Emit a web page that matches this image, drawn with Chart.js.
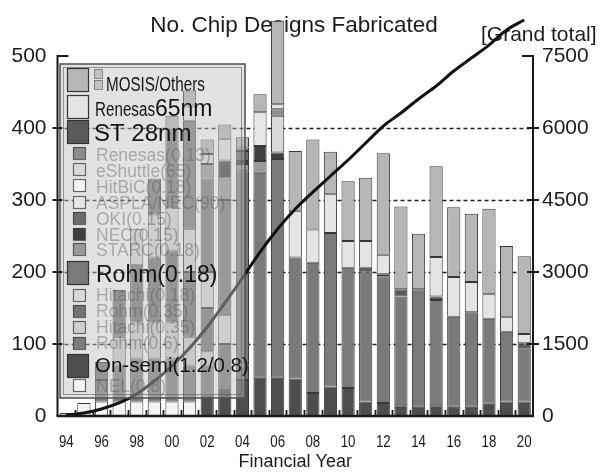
<!DOCTYPE html>
<html>
<head>
<meta charset="utf-8">
<script src="https://cdn.jsdelivr.net/npm/chart.js@4.4.1/dist/chart.umd.min.js"></script>
<style>
  html, body { margin: 0; padding: 0; background: #ffffff; }
  #wrap { width: 604px; height: 473px; position: relative; }
</style>
</head>
<body>
<div id="wrap"><canvas id="c" width="604" height="473"></canvas></div>
<script>
// Financial years FY1994 .. FY2020
const years = ['94','95','96','97','98','99','00','01','02','03','04','05','06','07',
               '08','09','10','11','12','13','14','15','16','17','18','19','20'];

// Chips fabricated per year, by foundry / process (stacked bottom to top)
const nel        = [4,18,20,20,20,20,20,20,0,0,0,0,0,0,0,0,0,0,0,0,0,0,0,0,0,0,0];
const onSemi     = [0,0,0,0,0,0,0,0,30,40,50,53,53,52,32,41,39,20,18,15,13,15,13,13,17,20,20];
const rohm06     = [0,0,30,50,60,60,60,50,40,20,0,0,0,0,0,0,0,0,0,0,0,0,0,0,0,0,0];
const hitachi035 = [0,0,0,40,50,50,50,40,20,0,0,0,0,0,0,0,0,0,0,0,0,0,0,0,0,0,0];
const rohm035    = [0,0,25,65,80,90,100,90,60,40,20,0,0,0,0,0,0,0,0,0,0,0,0,0,0,0,0];
const hitachi018 = [0,0,0,0,50,60,60,60,50,40,0,0,0,0,0,0,0,0,0,0,0,0,0,0,0,0,0];
const rohm018    = [0,0,0,0,0,50,107,150,130,160,270,285,304,168,181,213,167,181,176,151,163,146,125,131,118,97,74];
const starc      = [0,0,0,0,0,0,0,0,20,30,10,16,0,0,0,0,0,0,0,0,0,0,0,0,0,0,0];
const nec        = [0,0,0,0,0,0,0,0,0,25,4,21,9,0,0,0,0,0,0,0,0,0,0,0,0,0,0];
const oki        = [0,0,0,0,0,0,0,0,0,0,14,0,0,0,0,0,0,0,0,0,0,0,0,0,0,0,0];
const aspla      = [0,0,0,0,0,0,0,0,14,30,0,47,0,0,0,0,0,0,0,0,0,0,0,0,0,0,0];
const hitbic     = [0,0,0,0,0,0,0,20,0,0,0,0,0,0,0,0,0,0,0,0,0,0,0,0,0,0,0];
const eshuttle   = [0,0,0,0,0,0,0,0,0,0,0,0,51,0,0,0,0,0,0,0,0,0,0,0,0,0,0];
const renesas13  = [0,0,0,0,0,0,0,0,0,0,5,0,9,0,0,0,0,0,0,0,0,0,0,0,0,0,0];
const st28       = [0,0,0,0,0,0,0,0,0,0,0,0,0,0,0,0,0,5,3,10,0,5,0,0,0,0,7];
const renesas65  = [0,0,0,0,0,0,0,0,0,0,0,0,7,65,46,54,37,37,27,0,0,55,55,42,34,20,13];
const mosis      = [0,0,0,0,0,0,20,22,20,20,14,25,116,83,125,59,83,88,141,115,77,126,97,95,119,99,108];

// Cumulative number of designs (right axis)
const grandTotal = [21,62,146,271,458,729,1042,1417,1854,2354,2875,3416,3896,4312,4666,
                    5000,5333,5687,6041,6312,6604,6875,7187,7458,7728,8041,8250];

// Axis ticks
const leftTicks  = [0,100,200,300,400,500];
const rightTicks = [0,1500,3000,4500,6000,7500];

const series = [
  { name: 'NEL(0.8)',          data: nel,        color: '#f4f4f4' },
  { name: 'On-semi(1.2/0.8)',  data: onSemi,     color: '#4e4e4e' },
  { name: 'Rohm(0.6)',         data: rohm06,     color: '#7c7c7c' },
  { name: 'Hitachi(0.35)',     data: hitachi035, color: '#cfcfcf' },
  { name: 'Rohm(0.35)',        data: rohm035,    color: '#747474' },
  { name: 'Hitachi(0.18)',     data: hitachi018, color: '#dadada' },
  { name: 'Rohm(0.18)',        data: rohm018,    color: '#7a7a7a' },
  { name: 'STARC(0.18)',       data: starc,      color: '#9a9a9a' },
  { name: 'NEC(0.15)',         data: nec,        color: '#3e3e3e' },
  { name: 'OKI(0.15)',         data: oki,        color: '#6c6c6c' },
  { name: 'ASPLA/NEC(90)',     data: aspla,      color: '#e6e6e6' },
  { name: 'HitBiC(0.18)',      data: hitbic,     color: '#f2f2f2' },
  { name: 'eShuttle(65)',      data: eshuttle,   color: '#d9d9d9' },
  { name: 'Renesas(0.13)',     data: renesas13,  color: '#8c8c8c' },
  { name: 'ST 28nm',           data: st28,       color: '#5a5a5a' },
  { name: 'Renesas65nm',       data: renesas65,  color: '#e4e4e4' },
  { name: 'MOSIS/Others',      data: mosis,      color: '#b6b6b6' }
];
const colorOf = Object.fromEntries(series.map(s => [s.name, s.color]));

const SANS = '"Liberation Sans", Arial, Helvetica, sans-serif';

// Key rows: swatch top, text baseline, text pieces [text, font, horizontal squeeze]
const keyRows = [
  { name: 'MOSIS/Others', big: true, top: 68, base: 91, tx: 106, parts: [['MOSIS/Others', '20px ' + SANS, 0.76]] },
  { name: 'Renesas65nm', big: true, top: 95, base: 116, tx: 95, parts: [['Renesas', '20px ' + SANS, 0.76], ['65nm', '23px ' + SANS, 1]] },
  { name: 'ST 28nm', big: true, top: 120, base: 141, tx: 94, parts: [['ST 28nm', '24px ' + SANS, 1]] },
  { name: 'Renesas(0.13)', top: 147, base: 161 },
  { name: 'eShuttle(65)', top: 163, base: 177 },
  { name: 'HitBiC(0.18)', top: 179, base: 193 },
  { name: 'ASPLA/NEC(90)', top: 196, base: 209 },
  { name: 'OKI(0.15)', top: 212, base: 225 },
  { name: 'NEC(0.15)', top: 228, base: 241 },
  { name: 'STARC(0.18)', top: 243, base: 256 },
  { name: 'Rohm(0.18)', big: true, top: 261, base: 282, tx: 96, parts: [['Rohm(0.18)', '23px ' + SANS, 1]] },
  { name: 'Hitachi(0.18)', top: 289, base: 301 },
  { name: 'Rohm(0.35)', top: 305, base: 317 },
  { name: 'Hitachi(0.35)', top: 321, base: 333 },
  { name: 'Rohm(0.6)', top: 337, base: 349 },
  { name: 'On-semi(1.2/0.8)', big: true, top: 354, base: 372, tx: 95, parts: [['On-semi(1.2/0.8)', '20.5px ' + SANS, 1]] },
  { name: 'NEL(0.8)', top: 379, base: 392 }
];

// draw text squeezed horizontally, returns drawn width
function squeezedText(ctx, text, x, y, font, sx, align) {
  ctx.save();
  ctx.font = font;
  ctx.translate(x, y);
  ctx.scale(sx, 1);
  ctx.textAlign = align || 'left';
  ctx.fillText(text, 0, 0);
  const w = ctx.measureText(text).width * sx;
  ctx.restore();
  return w;
}

const deco = {
  id: 'deco',
  beforeDatasetsDraw(chart) {
    const { ctx, chartArea: a, scales: { y } } = chart;
    ctx.save();
    ctx.fillStyle = '#1c1c1c';
    ctx.textBaseline = 'alphabetic';
    ctx.textAlign = 'center';
    ctx.font = '22.5px ' + SANS;
    ctx.fillText('No. Chip Designs Fabricated', 294, 32);
    ctx.textAlign = 'left';
    ctx.font = '21px ' + SANS;
    ctx.fillText('[Grand total]', 481, 41);
    // dashed reference lines
    ctx.strokeStyle = '#222';
    ctx.lineWidth = 1.3;
    ctx.setLineDash([4, 3]);
    leftTicks.forEach(v => {
      if (v <= 0 || v >= 500) return;
      const py = Math.round(y.getPixelForValue(v)) + 0.5;
      ctx.beginPath(); ctx.moveTo(a.left, py); ctx.lineTo(a.right, py); ctx.stroke();
    });
    ctx.restore();
  },
  afterDatasetsDraw(chart) {
    const { ctx, chartArea: a, scales: { x, y, y2 } } = chart;
    ctx.save();

    // key panel
    const bx = 60, by = 64, bw = 185, bh = 334;
    ctx.fillStyle = 'rgba(190,190,190,0.45)';
    ctx.fillRect(bx, by, bw, bh);
    ctx.strokeStyle = '#505050'; ctx.lineWidth = 1.5;
    ctx.strokeRect(bx, by, bw, bh);
    ctx.strokeStyle = 'rgba(90,90,90,0.6)'; ctx.lineWidth = 1;
    ctx.strokeRect(bx + 3.5, by + 3.5, bw - 7, bh - 7);

    keyRows.forEach(r => {
      const col = colorOf[r.name];
      ctx.lineWidth = 1.2;
      ctx.strokeStyle = '#333';
      ctx.fillStyle = col;
      if (r.big) {
        ctx.fillRect(67, r.top, 21, 23);
        ctx.strokeRect(67.5, r.top + 0.5, 21, 23);
      } else {
        ctx.fillRect(73, r.top, 12, 12);
        ctx.strokeStyle = 'rgba(60,60,60,0.75)';
        ctx.strokeRect(73.5, r.top + 0.5, 12, 12);
      }
      ctx.textBaseline = 'alphabetic';
      if (r.parts) {
        ctx.fillStyle = '#151515';
        let tx = r.tx;
        r.parts.forEach(([t, f, sx]) => { tx += squeezedText(ctx, t, tx, r.base, f, sx, 'left'); });
      } else {
        ctx.fillStyle = 'rgba(85,85,85,0.42)';
        squeezedText(ctx, r.name, 96, r.base, '17.5px ' + SANS, 1, 'left');
      }
    });
    // small companion squares next to MOSIS/Others
    ctx.fillStyle = '#c2c2c2'; ctx.strokeStyle = 'rgba(80,80,80,0.6)'; ctx.lineWidth = 1;
    [[94, 69], [94, 80]].forEach(([sx, sy]) => { ctx.fillRect(sx, sy, 8, 9); ctx.strokeRect(sx + 0.5, sy + 0.5, 8, 9); });

    // axes
    ctx.strokeStyle = '#1a1a1a';
    ctx.lineWidth = 2;
    ctx.beginPath();
    ctx.moveTo(a.left + 11, a.top); ctx.lineTo(a.left, a.top); ctx.lineTo(a.left, a.bottom);
    ctx.moveTo(a.right - 11, a.top); ctx.lineTo(a.right, a.top); ctx.lineTo(a.right, a.bottom);
    ctx.stroke();
    ctx.lineWidth = 2.6;
    ctx.beginPath(); ctx.moveTo(a.left - 1, a.bottom); ctx.lineTo(a.right + 1, a.bottom); ctx.stroke();

    ctx.lineWidth = 1.8;
    ctx.beginPath();
    leftTicks.forEach(v => {
      if (v <= 0 || v >= 500) return;
      const py = y.getPixelForValue(v);
      ctx.moveTo(a.left - 5, py); ctx.lineTo(a.left + 5, py);
    });
    rightTicks.forEach(v => {
      if (v <= 0 || v >= 7500) return;
      const py = y2.getPixelForValue(v);
      ctx.moveTo(a.right - 6, py); ctx.lineTo(a.right + 6, py);
    });
    // inward ticks between years
    const step = (a.right - a.left) / years.length;
    for (let i = 1; i < years.length; i++) {
      const px = Math.round(a.left + i * step) + 0.5;
      ctx.moveTo(px, a.bottom); ctx.lineTo(px, a.bottom - 6);
    }
    ctx.stroke();

    // year labels (condensed face), every second year
    ctx.fillStyle = '#1c1c1c';
    ctx.textBaseline = 'alphabetic';
    years.forEach((lbl, i) => {
      if (i % 2 !== 0) return;
      squeezedText(ctx, lbl, x.getPixelForValue(i), 447, '17px ' + SANS, 0.78, 'center');
    });
    ctx.restore();
  }
};

const datasets = series.map(s => ({
  type: 'bar',
  label: s.name,
  data: s.data.map(v => (v === 0 ? null : v)),
  backgroundColor: s.color,
  borderColor: '#383838',
  borderWidth: 1,
  borderSkipped: false,
  yAxisID: 'y',
  barPercentage: 0.75,
  categoryPercentage: 1.0,
  clip: false,
  order: 2
}));
datasets.push({
  type: 'line',
  label: 'Grand total',
  data: grandTotal,
  yAxisID: 'y2',
  borderColor: '#111111',
  borderWidth: 3,
  pointRadius: 0,
  cubicInterpolationMode: 'monotone',
  fill: false,
  clip: false,
  order: 1
});

new Chart(document.getElementById('c'), {
  data: { labels: years, datasets },
  plugins: [deco],
  options: {
    responsive: false,
    animation: false,
    devicePixelRatio: 1,
    layout: { padding: { top: 56, left: 0, right: 0, bottom: 0 } },
    plugins: { legend: { display: false }, tooltip: { enabled: false }, title: { display: false } },
    scales: {
      x: {
        stacked: true,
        offset: true,
        grid: { display: false, drawTicks: false },
        border: { display: false },
        ticks: { display: false },
        title: { display: true, text: 'Financial Year', color: '#1c1c1c',
                 font: { family: SANS, size: 18 }, padding: { top: 0, bottom: 0 } },
        afterFit: s => { s.height = 57; }
      },
      y: {
        position: 'left', stacked: true, min: 0, max: 500,
        grid: { display: false, drawTicks: false },
        border: { display: false },
        ticks: { stepSize: 100, padding: 11, color: '#1c1c1c', font: { family: SANS, size: 21 },
                 callback: v => String(v) },
        afterFit: s => { s.width = 57.5; }
      },
      y2: {
        position: 'right', min: 0, max: 7500,
        grid: { display: false, drawTicks: false },
        border: { display: false },
        ticks: { stepSize: 1500, padding: 9, color: '#1c1c1c', font: { family: SANS, size: 21 },
                 callback: v => String(v) },
        afterFit: s => { s.width = 71; }
      }
    }
  }
});
</script>
</body>
</html>
